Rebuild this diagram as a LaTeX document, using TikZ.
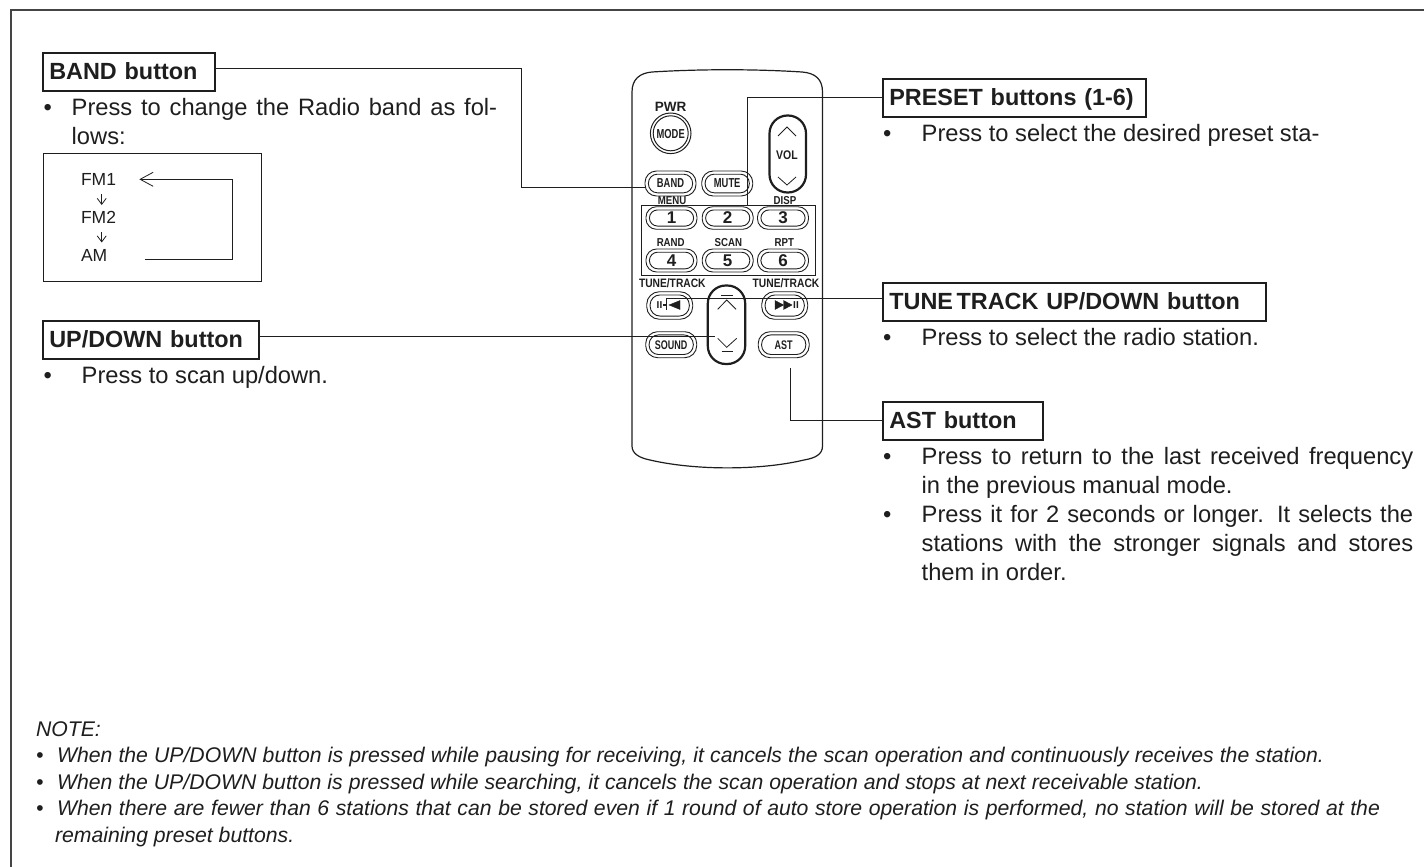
\documentclass[tikz,border=0pt]{standalone}
\usepackage{fontspec}
\setmainfont{Liberation Sans}
\newfontfamily\cond[FakeStretch=0.84]{Liberation Sans}
\newfontfamily\condk[FakeStretch=0.72]{Liberation Sans}
\usetikzlibrary{arrows.meta}
\definecolor{ink}{HTML}{1E1E1E}
\definecolor{framec}{HTML}{444444}
\newcommand{\fs}[1]{\fontsize{#1}{#1}\selectfont}
% a remote key with a doubled outline: name, centre x, centre y, width, height, text
\newcommand{\rkey}[6]{%
  \draw[ink,line width=.9pt,rounded corners=#5*0.46pt] (#2-#4/2,#3-#5/2) rectangle (#2+#4/2,#3+#5/2);
  \draw[ink,line width=.9pt,rounded corners=#5*0.36pt] (#2-#4/2+3.4,#3-#5/2+3.2) rectangle (#2+#4/2-3.4,#3+#5/2-3.2);
  \node[rbtn] (#1) at (#2,#3) {#6};
}
\tikzset{
  every node/.style={text=ink,inner sep=0pt,outer sep=0pt},
  headbox/.style={draw=ink,line width=2pt,anchor=west,font=\fs{23.4}\bfseries,minimum height=38pt,
     inner xsep=6pt,text width={#1pt-12pt},align=left,text height=17pt,text depth=2pt},
  lead/.style={draw=ink,line width=1pt},
  body/.style={anchor=base west,font=\fs{23.7}},
  note/.style={anchor=base west,font=\fs{21.2}\itshape},
  flow/.style={anchor=base west,font=\fs{17.5}},
  rbtn/.style={anchor=center,font=\fs{13}\condk\bfseries},
  lab/.style={anchor=center,font=\fs{11.5}\cond\bfseries},
  chev/.style={ink,line width=.8pt},
  opena/.style={-{Straight Barb[length=6pt,width=9pt,line width=0.8pt]}},
  openb/.style={-{Straight Barb[length=13pt,width=14pt,line width=0.8pt]}},
}
\begin{document}
\begin{tikzpicture}[x=1pt,y=-1pt]
\useasboundingbox (0,0) rectangle (1424,867);
% frame (top and left only)
\draw[draw=framec,line width=2pt] (1424,10) -- (11,10) -- (11,867);
% remote body
\draw[draw=ink,line width=1.2pt] (632,92) .. controls (632,79) and (640,73) .. (652,72) .. controls (700,69) and (755,69) .. (802,72) .. controls (815,73) and (822.5,79) .. (822.5,92) -- (822.5,446) .. controls (822.5,454) and (816,458) .. (804,460) .. controls (760,470.5) and (695,470.5) .. (650,460) .. controls (640,458) and (632,454) .. (632,446) -- cycle;
% remote contents
\node[rbtn,font=\fs{13.5}\bfseries] (pwr) at (670.5,107) {PWR};
\draw[ink,line width=1pt] (670.7,133.3) circle (20.3pt);
\draw[ink,line width=1pt] (670.7,133.3) circle (17.5pt);
\node[rbtn] (mode) at (670.7,134) {MODE};
% vol
\draw[ink,line width=2.2pt,rounded corners=18pt] (769.5,115.5) rectangle (806,192.5);
\node[rbtn,font=\fs{12.5}\cond\bfseries] (vol) at (787,155) {VOL};
\draw[chev] (778,136) -- (787,127) -- (796,136);
\draw[chev] (778,177) -- (787,185) -- (796,177);
% small buttons
\rkey{band}{670.5}{183.5}{51}{25}{BAND}
\rkey{mute}{727.2}{183.5}{51}{25}{MUTE}
\node[lab] (menu) at (672,201) {MENU};
\node[lab] (disp) at (785,201) {DISP};
\node[lab] (rand) at (670.7,243) {RAND};
\node[lab] (scan) at (728.3,242.3) {SCAN};
\node[lab] (rpt) at (784.3,243) {RPT};
\draw[ink,line width=1pt] (641.7,205) rectangle (815.7,275);
\tikzset{rbtn/.append style={font=\fs{17}\bfseries}}
\rkey{k1}{671.5}{218}{51}{22.5}{1}
\rkey{k2}{727.7}{218}{51}{22.5}{2}
\rkey{k3}{783}{218}{51}{22.5}{3}
\rkey{k4}{671.5}{260.5}{51}{23}{4}
\rkey{k5}{727.7}{260.5}{51}{23}{5}
\rkey{k6}{783}{260.5}{51}{23}{6}
\tikzset{rbtn/.append style={font=\fs{13}\condk\bfseries}}
\node[lab,font=\fs{12.2}\cond\bfseries] (tt1) at (672.3,283.3) {TUNE/TRACK};
\node[lab,font=\fs{12.2}\cond\bfseries] (tt2) at (786,283.3) {TUNE/TRACK};
% up/down long
\draw[ink,line width=2.2pt,rounded corners=18pt] (707.8,285.5) rectangle (745.2,364);
\draw[chev] (721,295.7) -- (733,295.7);
\draw[chev] (717.7,309.3) -- (726.7,300) -- (736,309.3);
\draw[chev] (717.7,338.3) -- (726.7,347.3) -- (736.7,338.3);
\draw[chev] (721.7,351.7) -- (733.3,351.7);
% tune keys
\rkey{prev}{669.7}{305.5}{46}{27.5}{}
\node[rbtn,font=\fs{10}\bfseries] (previi) at (659.5,305) {II};
\draw[ink,fill=ink] (680,300.5) -- (680,309.5) -- (669,305) -- cycle;
\draw[ink,fill=ink] (663.5,304) rectangle (665,305.5);
\rkey{next}{784.7}{305.5}{46}{27.5}{}
\draw[ink,fill=ink] (775,300.5) -- (775,309.5) -- (783.5,305) -- cycle;
\draw[ink,fill=ink] (783.5,300.5) -- (783.5,309.5) -- (792,305) -- cycle;
\node[rbtn,font=\fs{10}\bfseries] (nextii) at (796,305) {II};
% sound, ast
\tikzset{rbtn/.append style={font=\fs{12.5}\condk\bfseries}}
\rkey{sound}{671.2}{344.7}{51}{26}{SOUND}
\rkey{ast}{783.7}{344.7}{51}{26}{AST}
% heads
\node[headbox=171.7] (hband) at (43.3,72.3) {BAND button};
\node[headbox=215.7] (hud) at (43.3,340.3) {UP/DOWN button};
\node[headbox=263] (hpreset) at (883.3,98.3) {PRESET buttons (1-6)};
\node[headbox=383] (htune) at (883.3,302.3) {TUNE\kern3.6pt TRACK UP/DOWN button};
\node[headbox=160] (hast) at (883.3,421.3) {AST button};
% leaders
\coordinate (bandin) at (645,187.7);
\coordinate (presetin) at (747.3,205);
\coordinate (tunein) at (666,310);
\coordinate (udin) at (715,336.7);
\coordinate (astin) at (790.7,368);
\draw[lead] ([yshift=3.6pt]hband.east) -| (521,187.7) -- (bandin);
\draw[lead] ([yshift=1pt]hpreset.west) -| (presetin);
\draw[lead] ([yshift=4pt]htune.west) -| (tunein);
\draw[lead] ([yshift=3.6pt]hud.east) -- (udin);
\draw[lead] ([yshift=.6pt]hast.west) -| (astin);
% body text
\node[body] (bb) at (43.5,115) {•};
\node[body] (t1) at (71.7,115) {\makebox[425.5pt][s]{Press to change the Radio band as fol-}};
\node[body] (t1b) at (71.7,144) {lows:};
% band box
\draw[ink,line width=1pt] (43.3,153.7) rectangle (261.7,281.3);
\node[flow] (fm1) at (81,185) {FM1};
\node[flow] (fm2) at (81,223) {FM2};
\node[flow] (am) at (81,261) {AM};
\coordinate (a1s) at (101.7,194);
\coordinate (a1e) at (101.7,205);
\coordinate (a2s) at (101.7,232);
\coordinate (a2e) at (101.7,242.5);
\coordinate (bigstart) at (145,259);
\coordinate (bigend) at (139.3,179.3);
\draw[ink,line width=.8pt,opena] (a1s) -- (a1e);
\draw[ink,line width=.8pt,opena] (a2s) -- (a2e);
\draw[ink,line width=1pt,openb] (bigstart) -- (232.3,259) -- (232.3,179.3) -- (bigend);
\node[body] (bu) at (43.5,383.3) {•};
\node[body] (tu) at (81.7,383.3) {Press to scan up/down.};
\node[body] (bp) at (883,141) {•};
\node[body] (tp) at (921.7,141) {Press to select the desired preset sta-};
\node[body] (bt) at (883,345.7) {•};
\node[body] (tt) at (921.7,345.7) {Press to select the radio station.};
\node[body] (ba) at (883,464) {•};
\node[body] (ta) at (921.7,464) {\makebox[491.5pt][s]{Press to return to the last received frequency}};
\node[body] (ta2) at (921.7,493.3) {in the previous manual mode.};
\node[body] (bb2) at (883,522.7) {•};
\node[body] (tb) at (921.7,522.7) {\makebox[491.5pt][s]{Press it for 2 seconds or longer. It selects the}};
\node[body] (tb2) at (921.7,551.7) {\makebox[491.5pt][s]{stations with the stronger signals and stores}};
\node[body] (tb3) at (921.7,580.7) {them in order.};
% notes
\node[note] (n0) at (36,736) {NOTE:};
\node[note] (n1b) at (36,762.7) {•};
\node[note] (n1) at (57,762.7) {\makebox[1267pt][s]{When the UP/DOWN button is pressed while pausing for receiving, it cancels the scan operation and continuously receives the station.}};
\node[note] (n2b) at (36,789) {•};
\node[note] (n2) at (57,789) {\makebox[1146pt][s]{When the UP/DOWN button is pressed while searching, it cancels the scan operation and stops at next receivable station.}};
\node[note] (n3b) at (36,815.5) {•};
\node[note] (n3) at (57,815.5) {\makebox[1323pt][s]{When there are fewer than 6 stations that can be stored even if 1 round of auto store operation is performed, no station will be stored at the}};
\node[note] (n4) at (55,842) {remaining preset buttons.};
\end{tikzpicture}
\end{document}
